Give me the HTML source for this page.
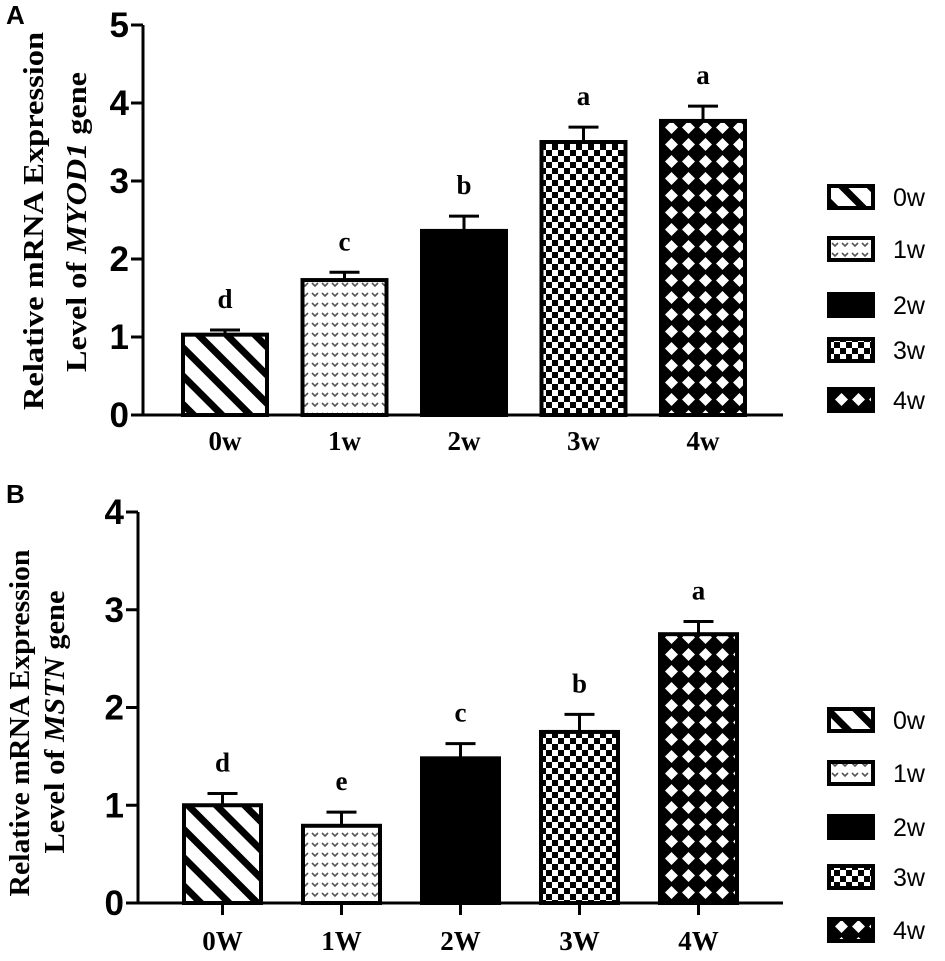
<!DOCTYPE html>
<html><head><meta charset="utf-8"><style>
body{margin:0;background:#fff;}
svg{display:block;}
.tick{font-family:"Liberation Sans",sans-serif;font-weight:bold;font-size:35px;}
.cat{font-family:"Liberation Serif",serif;font-weight:bold;font-size:27px;}
.let{font-family:"Liberation Serif",serif;font-weight:bold;font-size:27px;}
.ttl{font-family:"Liberation Serif",serif;font-weight:bold;font-size:29px;}
.leg{font-family:"Liberation Sans",sans-serif;font-size:25px;}
.pl{font-family:"Liberation Sans",sans-serif;font-weight:bold;font-size:26px;}
</style></head><body>
<svg id="chart" width="945" height="961" viewBox="0 0 945 961">
<defs>
<pattern id="p0" width="20" height="20" patternUnits="userSpaceOnUse" patternTransform="rotate(-45)"><rect width="20" height="20" fill="#fff"/><rect x="0" y="0" width="7" height="20" fill="#000"/></pattern>
<pattern id="p1" width="10" height="10" patternUnits="userSpaceOnUse"><rect width="10" height="10" fill="#fff"/><path d="M2 3 L5 6 L8 3" stroke="#555" stroke-width="1.6" fill="none"/></pattern>
<pattern id="p2" width="10" height="10" patternUnits="userSpaceOnUse"><rect width="10" height="10" fill="#000"/></pattern>
<pattern id="p3" width="12" height="12" patternUnits="userSpaceOnUse"><rect width="12" height="12" fill="#fff"/><rect width="6" height="6" fill="#000"/><rect x="6" y="6" width="6" height="6" fill="#000"/></pattern>
<pattern id="p4" width="17" height="17" patternUnits="userSpaceOnUse"><rect width="17" height="17" fill="#000"/><path d="M8.5 2 L15 8.5 L8.5 15 L2 8.5Z" fill="#fff"/></pattern>
</defs>
<g id="gA"></g>
<g id="gB"></g>
</svg>
<script>
const catsA=["0w","1w","2w","3w","4w"];
const valsA=[1.03,1.73,2.36,3.5,3.77];
const errA=[0.06,0.1,0.19,0.19,0.19];
const letA=["d","c","b","a","a"];
const ticksA=[0,1,2,3,4,5];
const catsB=["0W","1W","2W","3W","4W"];
const valsB=[1.0,0.79,1.48,1.75,2.75];
const errB=[0.12,0.14,0.15,0.18,0.13];
const letB=["d","e","c","b","a"];
const ticksB=[0,1,2,3,4];
const legendLabels=["0w","1w","2w","3w","4w"];
const NS="http://www.w3.org/2000/svg";
function mk(p,t,a,txt){const e=document.createElementNS(NS,t);for(const k in a)e.setAttribute(k,a[k]);if(txt!==undefined)e.textContent=txt;p.appendChild(e);return e;}
function panel(g,o){
 const y=v=>o.y0-(v/o.max)*(o.y0-o.yTop);
 const x=i=>o.x0+i*o.step;
 const bw=o.bw;
 o.vals.forEach((v,i)=>{
  const cx=x(i)+bw/2, ey=y(v+o.err[i]);
  const el=mk(g,"line",{x1:cx,y1:y(v),x2:cx,y2:ey,stroke:"#000","stroke-width":3});
  
  
  const c=mk(g,"line",{x1:cx-15,y1:ey,x2:cx+15,y2:ey,stroke:"#000","stroke-width":3});
  
  
  const r=mk(g,"rect",{x:x(i),y:y(v),width:bw,height:o.y0-y(v),fill:"url(#p"+i+")",stroke:"#000","stroke-width":4});
  
  
  const l=mk(g,"text",{x:cx,y:ey-22,"text-anchor":"middle",class:"let"},o.lets[i]);
  
  
  const t=mk(g,"text",{x:cx,y:o.catY,"text-anchor":"middle",class:"cat"},o.cats[i]);
  
  
 });
 const ax=mk(g,"path",{d:`M${o.ax} ${o.yTop} V${o.y0} H${o.xEnd}`,stroke:"#000","stroke-width":3,fill:"none"});
 
 
 o.ticks.forEach(t=>{
  mk(g,"line",{x1:o.ax-12,y1:y(t),x2:o.ax,y2:y(t),stroke:"#000","stroke-width":3});
  const tl=mk(g,"text",{x:o.ax-14,y:y(t)+12,"text-anchor":"end",class:"tick"},t);
  
  
 });
 if(o.xt){o.cats.forEach((c,i)=>{mk(g,"line",{x1:x(i)+bw/2,y1:o.y0,x2:x(i)+bw/2,y2:o.y0+12,stroke:"#000","stroke-width":3});});}
 const tt=mk(g,"text",{transform:`translate(${o.t1x},${o.tc1}) rotate(-90)`,"text-anchor":"middle",class:"ttl",textLength:o.l1,lengthAdjust:"spacingAndGlyphs"},"Relative mRNA Expression");
 
 
 const t2=mk(g,"text",{transform:`translate(${o.t2x},${o.tc2}) rotate(-90)`,"text-anchor":"middle",class:"ttl",textLength:o.l2,lengthAdjust:"spacingAndGlyphs"});
 
 
 mk(t2,"tspan",{},"Level of ");mk(t2,"tspan",{"font-style":"italic"},o.gene);mk(t2,"tspan",{}," gene");
 const pl=mk(g,"text",{x:6,y:o.plY,class:"pl"},o.label);
 
 
 legendLabels.forEach((lb,i)=>{
  const ly=o.legY[i];
  const sw=mk(g,"rect",{x:829,y:ly-11,width:44,height:22,fill:"url(#p"+i+")",stroke:"#000","stroke-width":4});
  
  
  const lt=mk(g,"text",{x:893,y:ly+9,class:"leg"},lb);
  
  
 });
}
panel(document.getElementById("gA"),{cats:catsA,vals:valsA,err:errA,lets:letA,ticks:ticksA,max:5,y0:415,yTop:25,x0:183,step:119.5,bw:84,ax:143,xEnd:783,catY:450,t1x:43,t2x:86,tc1:221,tc2:222,l1:378,l2:300,gene:"MYOD1",label:"A",plY:24,legY:[197,249,305,350,400],xt:false});
panel(document.getElementById("gB"),{cats:catsB,vals:valsB,err:errB,lets:letB,ticks:ticksB,max:4,y0:903,yTop:512,x0:184,step:119,bw:77,ax:138,xEnd:783,catY:950,t1x:29,t2x:64,tc1:723,tc2:722,l1:347,l2:263,gene:"MSTN",label:"B",plY:503,legY:[720,773,827,877,930],xt:true});
</script>
</body></html>
